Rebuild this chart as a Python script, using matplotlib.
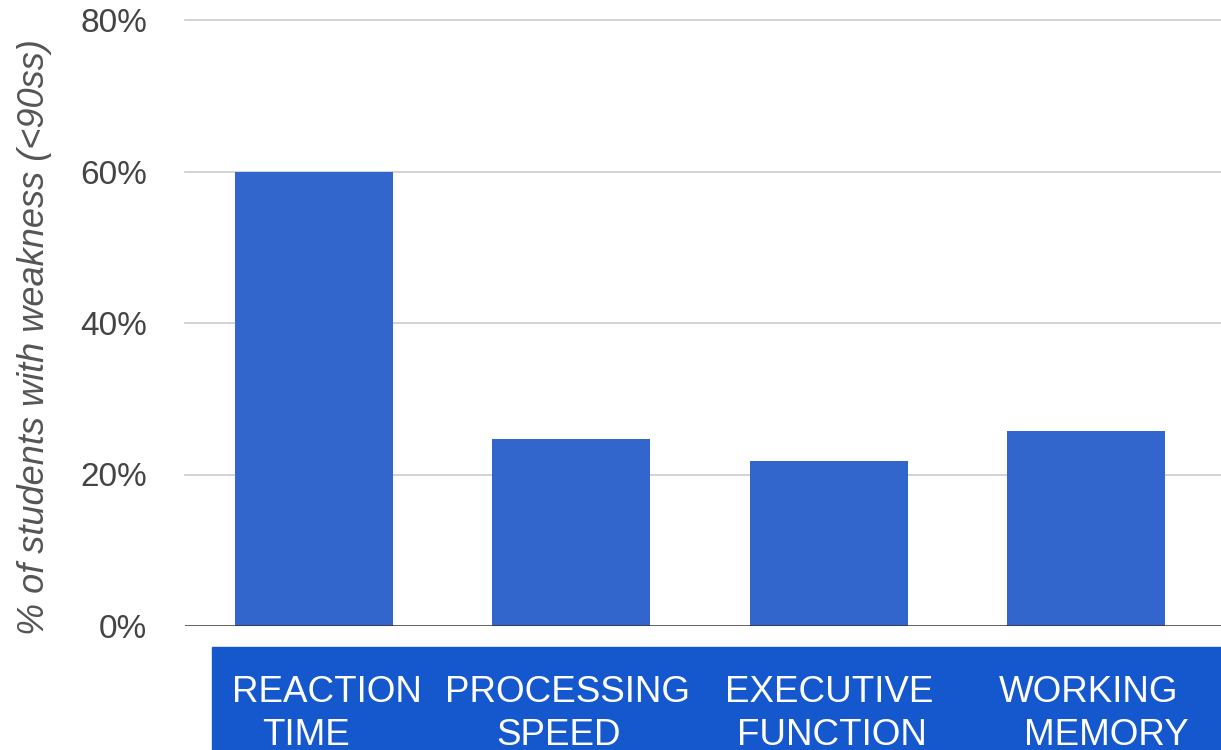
import numpy as np
import matplotlib.pyplot as plt
from matplotlib.patches import Rectangle
import matplotlib.transforms as mtransforms

plt.rcParams['font.family'] = ['Liberation Sans', 'DejaVu Sans']

categorias = ['REACTION\nTIME', 'PROCESSING\nSPEED', 'EXECUTIVE\nFUNCTION', 'WORKING\nMEMORY']
porcentajes = [60, 24.7, 21.8, 25.7]
ticks_y = [0, 20, 40, 60, 80]
etiquetas_y = ['0%', '20%', '40%', '60%', '80%']

# desplazamiento en pixeles de cada linea del rotulo respecto al centro de la barra
desp_linea1 = [13, -4, 0, 2]
desp_linea2 = [-8, -13, 3, 20]

fig = plt.figure(figsize=(12.21, 7.5), dpi=100)
ax = fig.add_axes([185/1221, 124/750, 1 - 185/1221, 606/750])

x = np.arange(len(categorias))
ax.bar(x, porcentajes, width=0.614, color='#3366cc', zorder=3)

ax.set_xlim(-0.5, len(categorias) - 0.5 + 0.023)
ax.set_ylim(0, 80)
ax.set_yticks(ticks_y)
ax.set_yticklabels(etiquetas_y, fontsize=24, color='#444444')
ax.tick_params(axis='y', length=0, pad=27)
ax.set_xticks([])
for t in ticks_y[1:]:
    ax.axhline(t, color='#cccccc', lw=1.2, zorder=1, clip_on=False)
ax.axhline(0, color='#333333', lw=1.8, zorder=4)
for s in ax.spines.values():
    s.set_visible(False)

fig.text(35/1221, 0.551, '% of students with weakness (<90ss)', rotation=90,
         ha='center', va='center', fontsize=26, style='italic', color='#555555')

# caja azul con las categorias
fig.patches.append(Rectangle((212/1221, 0), 1 - 212/1221, 103/750,
                             transform=fig.transFigure, color='#1557cc', zorder=0))
trans = mtransforms.blended_transform_factory(ax.transData, fig.transFigure)
for i, cat in enumerate(categorias):
    linea1, linea2 = cat.split('\n')
    t1 = mtransforms.offset_copy(trans, fig=fig, x=desp_linea1[i], units='dots')
    t2 = mtransforms.offset_copy(trans, fig=fig, x=desp_linea2[i], units='dots')
    fig.text(x[i], 48/750, linea1, transform=t1, ha='center', va='baseline',
             fontsize=26.5, color='white', zorder=5)
    fig.text(x[i], 5/750, linea2, transform=t2, ha='center', va='baseline',
             fontsize=26.5, color='white', zorder=5)

plt.savefig('out.png', dpi=100)
plt.close()
